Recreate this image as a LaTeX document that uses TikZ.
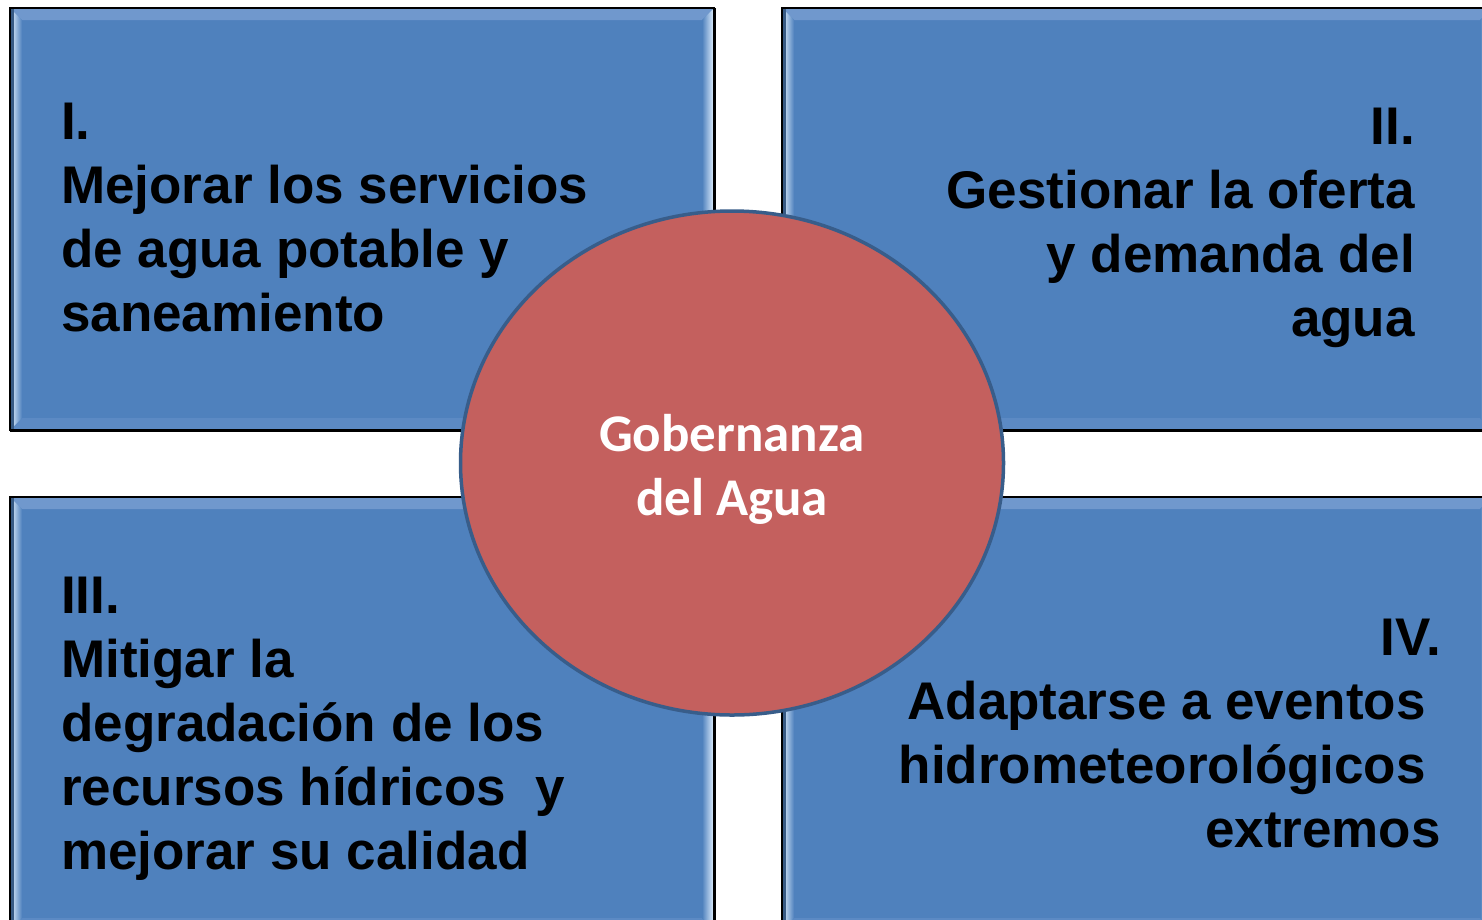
\documentclass[tikz,border=0pt]{standalone}
\usepackage{fontspec}
\usetikzlibrary{shapes.geometric}
\setmainfont{Liberation Sans}
\newfontfamily\calibri{Carlito}
\definecolor{boxblue}{RGB}{79,129,189}
\definecolor{bevlight}{RGB}{215,232,250}
\definecolor{bevtop}{RGB}{112,152,205}
\definecolor{bevbot}{RGB}{92,138,196}
\definecolor{circred}{RGB}{196,96,94}
\definecolor{circline}{RGB}{56,93,138}
\tikzset{
  boxtext/.style={font=\bfseries\fontsize{53}{64}\selectfont, text=black, inner sep=0pt},
  circtext/.style={font=\calibri\bfseries\fontsize{53}{64}\selectfont, text=white, inner sep=0pt, align=center},
  panel/.style={fill=boxblue, draw=black, line width=1.5pt, inner sep=0pt},
}
\begin{document}
\begin{tikzpicture}[x=1pt,y=-1pt]
\useasboundingbox (0,0) rectangle (1482,919);
\clip (0,0) rectangle (1482,919);
\fill[white] (0,0) rectangle (1482,919);
\foreach \n/\xa/\ya/\xb/\yb in {p1/10/8/714/430, p2/782/8/1492/430, p3/10/497/714/930, p4/782/497/1492/930}{
  \fill[gray!40] (\xa+2,\ya+2) rectangle (\xb+2,\yb+2);
  \node[panel, minimum width={\xb-\xa}, minimum height={\yb-\ya}, anchor=north west] (\n) at (\xa,\ya) {};
  % top bevel
  \fill[bevtop] (\xa+1,\ya+1) -- (\xb-1,\ya+1) -- (\xb-12,\ya+12) -- (\xa+12,\ya+12) -- cycle;
  % bottom bevel
  \fill[bevbot] (\xa+1,\yb-1) -- (\xb-1,\yb-1) -- (\xb-12,\yb-12) -- (\xa+12,\yb-12) -- cycle;
  % left bevel
  \shade[left color=bevlight, right color=boxblue] (\xa+1,\ya+1) -- (\xa+12,\ya+12) -- (\xa+12,\yb-12) -- (\xa+1,\yb-1) -- cycle;
  \fill[boxblue!70!black] (\xa+1,\ya+1) rectangle (\xa+4,\yb-1);
  % right bevel
  \shade[left color=boxblue, right color=bevlight] (\xb-1,\ya+1) -- (\xb-12,\ya+12) -- (\xb-12,\yb-12) -- (\xb-1,\yb-1) -- cycle;
  \draw[black, line width=1.5pt] (\xa,\ya) rectangle (\xb,\yb);
}
% circle
\node[ellipse, draw=circline, line width=3.5pt, fill=circred, minimum width=543, minimum height=504, inner sep=0pt] (c) at (732,463) {};
\node[circtext, anchor=base] (ct) at (732,515) {Gobernanza\\del Agua};
% texts
\node[boxtext, align=left, anchor=base west] (t1) at (61,331) {I.\\Mejorar los servicios\\de agua potable y\\saneamiento};
\node[boxtext, align=right, anchor=base east] (t2) at (1415,336) {II.\\Gestionar la oferta\\y demanda del\\agua};
\node[boxtext, align=left, anchor=base west] (t3) at (61,869) {III.\\Mitigar la\\degradación de los\\recursos hídricos \ y\\mejorar su calidad};
\node[boxtext, align=right, anchor=base east] (t4) at (1441,847) {IV.\\Adaptarse a eventos\kern15pt\\hidrometeorológicos\kern15pt\\extremos};
\end{tikzpicture}
\end{document}
